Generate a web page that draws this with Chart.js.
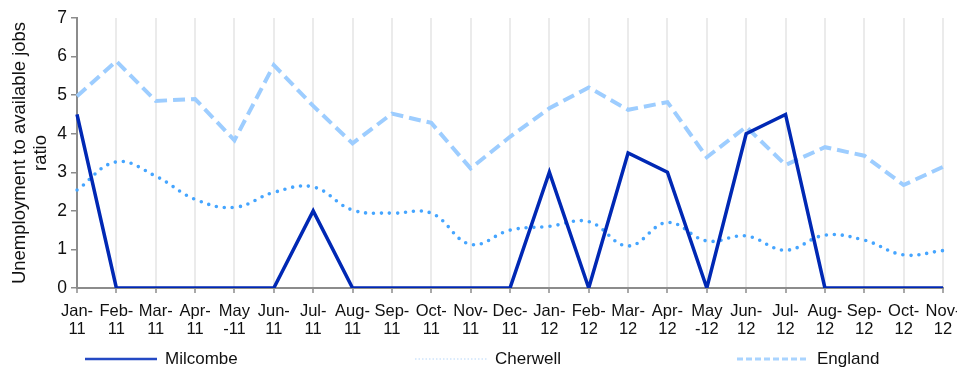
<!DOCTYPE html>
<html>
<head>
<meta charset="utf-8">
<script src="https://cdn.jsdelivr.net/npm/chart.js@4.4.0/dist/chart.umd.min.js"></script>
<style>
  html, body { margin: 0; padding: 0; background: #fff; }
  #wrap { position: relative; width: 957px; height: 368px; font-family: "Liberation Sans", Arial, sans-serif; }
  #ratioChart { position: absolute; left: 0; top: 0; }
  .key { position: absolute; top: 347px; height: 24px; display: flex; align-items: center; font-size: 17px; color: #111; }
  .key svg { margin-right: 8px; }
</style>
</head>
<body>
<div id="wrap">
  <canvas id="ratioChart" width="957" height="368"></canvas>
  <div class="key" style="left:85px">
    <svg width="72" height="6"><line x1="0" y1="3" x2="72" y2="3" stroke="#2449c4" stroke-width="2.5"/></svg>Milcombe
  </div>
  <div class="key" style="left:415px">
    <svg width="72" height="6"><line x1="0" y1="3" x2="72" y2="3" stroke="#cfe5fb" stroke-width="1.5" stroke-dasharray="1.5 2"/></svg>Cherwell
  </div>
  <div class="key" style="left:737px">
    <svg width="72" height="6"><line x1="0" y1="3" x2="72" y2="3" stroke="#a9d4ff" stroke-width="3" stroke-dasharray="6 3"/></svg>England
  </div>
</div>
<script>
// months Jan-11 .. Nov-12, two-line tick labels
const months = [
  ['Jan-', '11'], ['Feb-', '11'], ['Mar-', '11'], ['Apr-', '11'], ['May', '-11'], ['Jun-', '11'],
  ['Jul-', '11'], ['Aug-', '11'], ['Sep-', '11'], ['Oct-', '11'], ['Nov-', '11'], ['Dec-', '11'],
  ['Jan-', '12'], ['Feb-', '12'], ['Mar-', '12'], ['Apr-', '12'], ['May', '-12'], ['Jun-', '12'],
  ['Jul-', '12'], ['Aug-', '12'], ['Sep-', '12'], ['Oct-', '12'], ['Nov-', '12']
];

const milcombe = [4.5, 0, 0, 0, 0, 0, 2, 0, 0, 0, 0, 0, 3, 0, 3.5, 3, 0, 4, 4.5, 0, 0, 0, 0];
const cherwell = [2.54, 3.27, 2.9, 2.3, 2.09, 2.48, 2.62, 2.02, 1.94, 1.94, 1.13, 1.5,
                  1.6, 1.72, 1.09, 1.7, 1.22, 1.35, 0.98, 1.37, 1.24, 0.86, 0.97];
const england = [4.97, 5.88, 4.85, 4.9, 3.83, 5.78, 4.72, 3.75, 4.52, 4.28, 3.1, 3.92,
                 4.66, 5.2, 4.62, 4.82, 3.39, 4.18, 3.19, 3.65, 3.43, 2.67, 3.14];

const yTicks = [0, 1, 2, 3, 4, 5, 6, 7];
const axisGrey = '#8c8c8c';
const fontFamily = '"Liberation Sans", Arial, sans-serif';

new Chart(document.getElementById('ratioChart'), {
  type: 'line',
  data: {
    labels: months,
    datasets: [
      {
        label: 'Milcombe',
        data: milcombe,
        borderColor: '#0028b4',
        borderWidth: 3.5,
        borderJoinStyle: 'miter',
        pointRadius: 0,
        tension: 0,
        clip: { left: 4, top: 4, right: 4, bottom: 0 }
      },
      {
        label: 'Cherwell',
        data: cherwell,
        borderColor: '#45a5ff',
        borderWidth: 3.6,
        borderDash: [0, 8],
        borderCapStyle: 'round',
        pointRadius: 0,
        tension: 0.4
      },
      {
        label: 'England',
        data: england,
        borderColor: '#9dcdff',
        borderWidth: 4,
        borderDash: [12, 6],
        pointRadius: 0,
        tension: 0
      }
    ]
  },
  options: {
    responsive: false,
    animation: false,
    layout: { padding: { top: 18, right: 14, bottom: 30, left: 0 } },
    plugins: {
      legend: { display: false },
      tooltip: { enabled: false }
    },
    scales: {
      x: {
        offset: false,
        grid: {
          color: '#ebebeb',
          lineWidth: 2,
          tickColor: axisGrey,
          tickLength: 5,
          tickWidth: 1.5
        },
        border: { color: axisGrey, width: 2 },
        ticks: {
          autoSkip: false,
          maxRotation: 0,
          minRotation: 0,
          padding: 10,
          color: '#111',
          font: { family: fontFamily, size: 16.5, lineHeight: 1.05 }
        },
        afterFit(scale) {
          scale.height = 50;
          scale.paddingLeft = 0;
          scale.paddingRight = 0;
        }
      },
      y: {
        min: 0,
        max: 7,
        afterBuildTicks(scale) {
          scale.ticks = yTicks.map(v => ({ value: v }));
        },
        grid: {
          drawOnChartArea: false,
          color: axisGrey,
          tickLength: 6,
          lineWidth: 1.5
        },
        border: { color: axisGrey, width: 2 },
        ticks: {
          padding: 4,
          color: '#111',
          font: { family: fontFamily, size: 17.5 }
        },
        title: {
          display: true,
          text: ['Unemployment to available jobs', 'ratio'],
          color: '#111',
          padding: { top: 9, bottom: 0 },
          font: { family: fontFamily, size: 18.5, lineHeight: 1.15 }
        },
        afterFit(scale) {
          scale.width = 77;
          scale.paddingTop = 0;
          scale.paddingBottom = 0;
        }
      }
    }
  }
});
</script>
</body>
</html>
